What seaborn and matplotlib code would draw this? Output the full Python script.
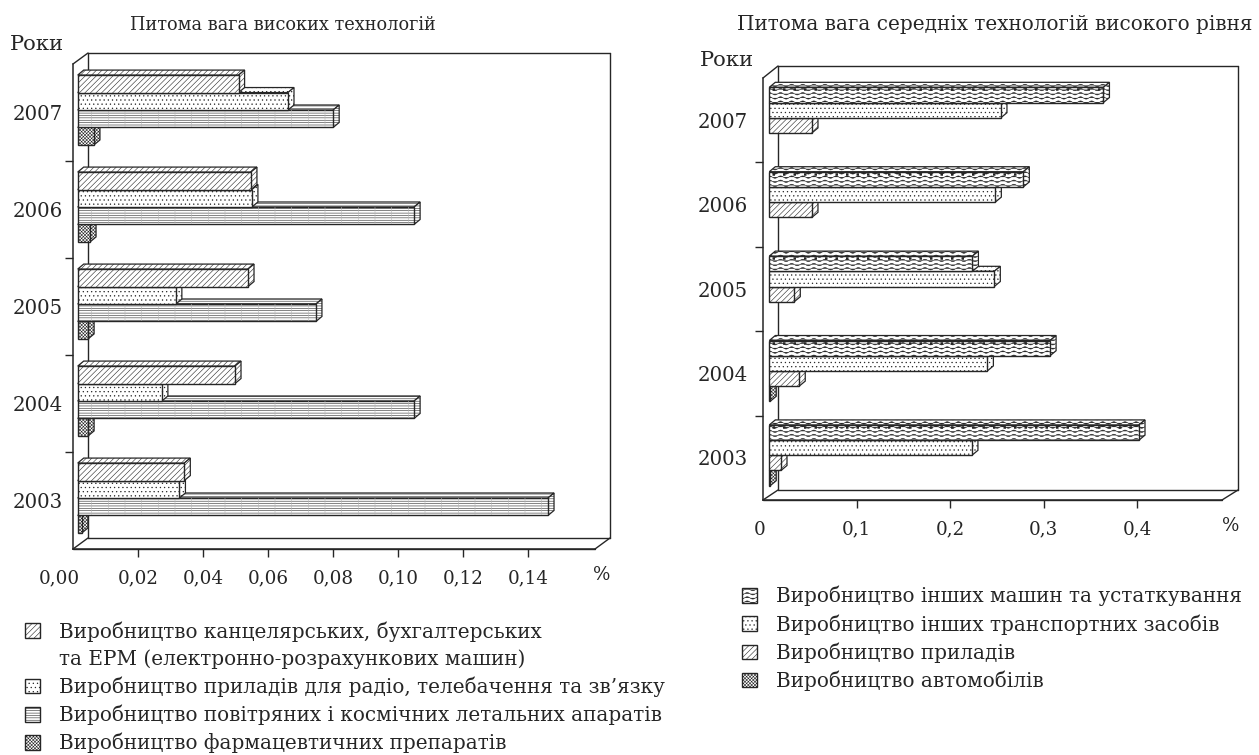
import numpy as np
import pandas as pd
import matplotlib
matplotlib.use("Agg")
import matplotlib.pyplot as plt
import seaborn as sns
from matplotlib import hatch as mhatch
from matplotlib.lines import Line2D
from matplotlib.patches import Patch, Polygon, Rectangle
from matplotlib.path import Path
from matplotlib.transforms import Affine2D, IdentityTransform

W, H = 1259, 755
INK = "#262626"

years = ["2007", "2006", "2005", "2004", "2003"]

# left panel
office_machines = [0.0495, 0.0533, 0.0524, 0.0484, 0.0328]
radio_tv = [0.0647, 0.0536, 0.0302, 0.0259, 0.0313]
aerospace = [0.0786, 0.1035, 0.0733, 0.1035, 0.1447]
pharma = [0.0050, 0.0038, 0.0032, 0.0032, 0.0013]
left_names = ["Виробництво канцелярських, бухгалтерських",
              "Виробництво приладів для радіо, телебачення та зв’язку",
              "Виробництво повітряних і космічних летальних апаратів",
              "Виробництво фармацевтичних препаратів"]
left_ticks = [0.00, 0.02, 0.04, 0.06, 0.08, 0.10, 0.12, 0.14]
left_ticklabels = ["0,00", "0,02", "0,04", "0,06", "0,08", "0,10", "0,12", "0,14"]

# right panel
other_machinery = [0.357, 0.2714, 0.217, 0.300, 0.395]
other_transport = [0.2475, 0.2415, 0.2404, 0.233, 0.2165]
instruments = [0.0456, 0.0456, 0.0267, 0.032, 0.0125]
cars = [0, 0, 0, 0.001, 0.001]
right_names = ["Виробництво інших машин та устаткування",
               "Виробництво інших транспортних засобів",
               "Виробництво приладів",
               "Виробництво автомобілів"]
right_ticks = [0, 0.1, 0.2, 0.3, 0.4]
right_ticklabels = ["0", "0,1", "0,2", "0,3", "0,4"]

DIAG = "//////"
DOTS = "...."
LINES = "-------"
CROSS = "xxxxxxxxxx"
WAVE = "OOOO"


class WaveHatch(mhatch.HatchPatternBase):
    # matplotlib has no wavy hatch, so this one takes over the "O" symbol
    def __init__(self, hatch, density):
        self.num_lines = hatch.count("O") * density
        self.steps = 97
        self.num_vertices = self.num_lines * self.steps

    def set_vertices_and_codes(self, vertices, codes):
        xs = np.linspace(0, 1, self.steps)
        for i in range(self.num_lines):
            y0 = (i + 0.5) / self.num_lines
            chunk = slice(i * self.steps, (i + 1) * self.steps)
            vertices[chunk, 0] = xs
            vertices[chunk, 1] = y0 + 0.012 * np.sin(xs * 2 * np.pi * 9)
            codes[chunk] = Path.LINETO
            codes[i * self.steps] = Path.MOVETO


mhatch._hatch_types[mhatch._hatch_types.index(mhatch.LargeCircles)] = WaveHatch

sns.set_theme(style="white")
plt.rcParams["font.family"] = ["DejaVu Serif"]
plt.rcParams["hatch.linewidth"] = 0.4
plt.rcParams["text.color"] = INK

fig = plt.figure(figsize=(W / 100, H / 100), dpi=100)
FS = 14.4
TICK_FS = 13.2


def px_text(x, y, s, size=FS, **kw):
    fig.text(x / W, 1 - y / H, s, fontsize=size, va="center", **kw)


def panel(box, xmax, values, names, hatches, ticks, ticklabels, shift, wall, pad, zero_x, wavy=False):
    left, top, right, bottom = box
    ax = fig.add_axes([left / W, 1 - bottom / H, (right - left) / W, (bottom - top) / H])
    ax.patch.set_visible(False)
    df = pd.DataFrame({"year": years * len(names),
                       "series": [n for n in names for _ in years],
                       "value": np.concatenate(values)})
    sns.barplot(data=df, x="value", y="year", hue="series", order=years, hue_order=names,
                palette={n: "white" for n in names}, saturation=1, width=0.72, gap=0,
                edgecolor=INK, linewidth=1.0, legend=False, ax=ax)
    ax.set_xlim(0, xmax)
    ax.set_ylim(len(years) - 0.5, -0.5)
    ax.set(xlabel=None, ylabel=None)
    ax.set_xticks(ticks)
    ax.set_xticklabels(ticklabels, fontsize=TICK_FS)
    ax.set_yticks(range(len(years)))
    ax.set_yticks(np.arange(len(years) - 1) + 0.5, minor=True)
    ax.tick_params(axis="y", which="major", length=0, pad=pad, labelsize=TICK_FS + 1, labelcolor=INK)
    ax.tick_params(axis="y", which="minor", left=True, length=6, width=1.0, color=INK)
    ax.tick_params(axis="x", length=6, width=1.0, color=INK, pad=9, labelcolor=INK, bottom=True)
    ax.xaxis.get_major_ticks()[0].tick1line.set_visible(False)
    lab0 = ax.get_xticklabels()[0]
    lab0.set_transform(lab0.get_transform() + Affine2D().translate(zero_x, 0))
    sns.despine(ax=ax)
    for s in ("left", "bottom"):
        ax.spines[s].set_color(INK)
        ax.spines[s].set_linewidth(1.1)

    # fake 3D: bars sit a little into the box, with side and top faces
    fig.canvas.draw()
    disp = IdentityTransform()
    sx, sy = shift
    dx, dy = 6, 5
    n = len(names)
    for i, cont in enumerate(ax.containers):
        for bar in cont:
            z = 3 + (n - i)
            if bar.get_width() <= 0:
                bar.set_visible(False)
                continue
            (x0, y1), (x1, y0) = ax.transData.transform(
                [(bar.get_x(), bar.get_y()), (bar.get_x() + bar.get_width(), bar.get_y() + bar.get_height())])
            y0, y1 = min(y0, y1), max(y0, y1)
            x0, x1, y0, y1 = x0 + sx, x1 + sx, y0 + sy, y1 + sy
            side = [(x1, y0), (x1 + dx, y0 + dy), (x1 + dx, y1 + dy), (x1, y1)]
            roof = [(x0, y1), (x0 + dx, y1 + dy), (x1 + dx, y1 + dy), (x1, y1)]
            for pts in (roof, side):
                ax.add_patch(Polygon(pts, closed=True, facecolor="white", edgecolor=INK, lw=0.9,
                                     hatch=hatches[i], transform=disp, clip_on=False, zorder=z - 0.5))
            bar.set_hatch(hatches[i])
            bar.set_transform(ax.transData + Affine2D().translate(sx, sy))
            bar.set_clip_on(False)
            bar.set_zorder(z)
            if hatches[i] == LINES:
                # faint cross lines on the striped bars
                ax.add_patch(Rectangle((x0, y0), x1 - x0, y1 - y0, facecolor="none", edgecolor="#b5b5b5",
                                       lw=0, hatch="|", transform=disp, clip_on=False, zorder=z + 0.1))
            if wavy and i == 0:
                ax.add_line(Line2D([x0 + 3, x1 - 1], [y1 - 2, y1 - 2], color=INK, lw=1.8, ls=(0, (1, 3.2)),
                                   transform=disp, clip_on=False, zorder=z + 0.2))

    # back wall and floor of the box
    bx0, btop, bx1, bbot = wall
    frame = [([left, bx0], [top, btop]), ([bx0, bx1], [btop, btop]), ([bx1, bx1], [btop, bbot]),
             ([bx0, bx1], [bbot, bbot]), ([bx0, bx0], [btop, bbot]),
             ([left, bx0], [bottom, bbot]), ([right, bx1], [bottom, bbot]), ([left, right], [bottom, bottom])]
    for xs, ys in frame:
        ax.add_line(Line2D(xs, [H - v for v in ys], color=INK, lw=1.0, transform=disp,
                           clip_on=False, zorder=1))
    ax.set_xlim(0, xmax)
    ax.set_ylim(len(years) - 0.5, -0.5)
    return ax


panel((73, 64, 595, 549), 0.1606, [office_machines, radio_tv, aerospace, pharma], left_names,
      [DIAG, DOTS, LINES, CROSS], left_ticks, left_ticklabels, (4.7, 2.5),
      (88, 53, 610, 538), 7, -14)
panel((763, 78, 1222, 500), 0.4904, [other_machinery, other_transport, instruments, cars], right_names,
      [WAVE, DOTS, DIAG, CROSS], right_ticks, right_ticklabels, (6.3, 2.5),
      (778, 66, 1238, 490), 11, -3, wavy=True)

px_text(283, 25, "Питома вага високих технологій", size=12.8, ha="center")
px_text(995, 24, "Питома вага середніх технологій високого рівня", ha="center")
px_text(10, 45, "Роки", size=15.2, ha="left")
px_text(700, 60, "Роки", size=15.2, ha="left")
px_text(602, 575, "%", size=TICK_FS, ha="center")
px_text(1231, 526, "%", size=TICK_FS, ha="center")


def legend(x, y, names, hatches, extra=None):
    labels, handles = [], []
    for name, h in zip(names, hatches):
        labels.append(name)
        handles.append(Patch(facecolor="white", edgecolor=INK, lw=1, hatch=h))
        if extra and name == names[0]:
            labels.append(extra)
            handles.append(Patch(visible=False))
    fig.legend(handles, labels, loc="upper left", bbox_to_anchor=(x / W, 1 - y / H), frameon=False,
               fontsize=FS, borderpad=0, borderaxespad=0, handlelength=0.74, handleheight=0.74,
               handletextpad=0.95, labelspacing=0.385, labelcolor=INK)


legend(25, 621, left_names, [DIAG, DOTS, LINES, CROSS],
       extra="та ЕРМ (електронно-розрахункових машин)")
legend(742, 586, right_names, [WAVE, DOTS, DIAG, CROSS])

fig.savefig("out.png", dpi=100)
